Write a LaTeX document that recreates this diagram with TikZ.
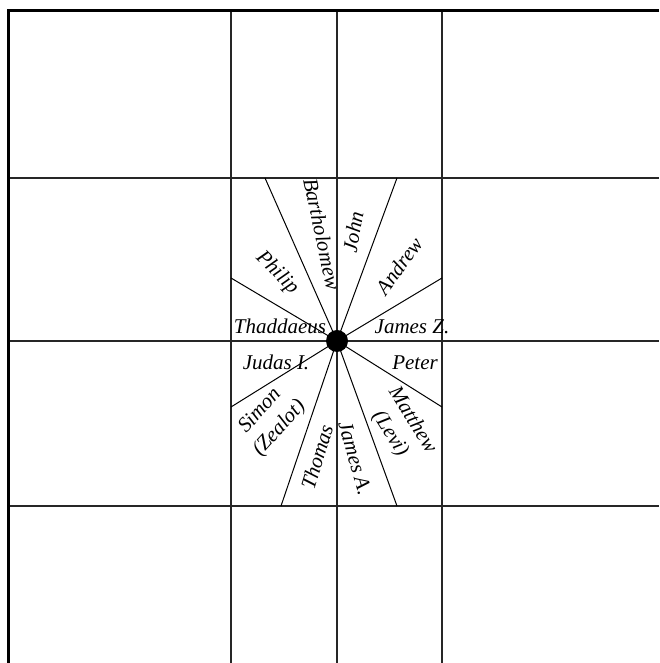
\documentclass[tikz,border=0pt]{standalone}
\usepackage{fontspec}
\setmainfont{Liberation Serif}

\begin{document}
\begin{tikzpicture}[x=1pt,y=1pt,
  apostle/.style={font=\itshape\fontsize{21}{26}\selectfont, inner sep=0pt, align=center},
  gridline/.style={black!85, line width=1.2pt},
  frameline/.style={line width=3pt, line join=miter},
  ray/.style={line width=1pt}]
  \useasboundingbox (0,0) rectangle (659,663);
  % the grid
  \foreach \gx in {231,337,442} \draw[gridline] (\gx,652) -- (\gx,0);
  \foreach \gy in {485,322,157} \draw[gridline] (8,\gy) -- (659,\gy);
  \draw[frameline] (659,652) -- (8,652) -- (8,0);
  % rays from the centre
  \coordinate (centre) at (337,322);
  \foreach \rname/\rx/\ry in {rayA/265/485, rayB/397/485, rayC/442/385, rayD/442/256,
      rayE/397/157, rayF/281/157, rayG/231/256, rayH/231/385} {
    \coordinate (\rname) at (\rx,\ry);
    \draw[ray] (centre) -- (\rname);
  }
  \node[circle, fill, minimum size=22pt, inner sep=0pt] (hub) at (centre) {};
  % the twelve names
  \node[apostle, rotate=-78] (bartholomew) at (322,429) {Bartholomew};
  \node[apostle, rotate=80] (john) at (353,431) {John};
  \node[apostle, rotate=54] (andrew) at (399,397) {Andrew};
  \node[apostle] (jamesz) at (412,336) {James Z.};
  \node[apostle] (peter) at (415,300) {Peter};
  \node[apostle, rotate=-58] (matthew) at (401,236) {Matthew\\(Levi)};
  \node[apostle, rotate=-74] (jamesa) at (355,205) {James A.};
  \node[apostle, rotate=73] (thomas) at (317,206) {Thomas};
  \node[apostle, rotate=48] (simon) at (270,243) {Simon\\(Zealot)};
  \node[apostle] (judas) at (276,301) {Judas I.};
  \node[apostle] (thaddaeus) at (280,337) {Thaddaeus};
  \node[apostle, rotate=-45] (philip) at (277,390) {Philip};
\end{tikzpicture}
\end{document}
